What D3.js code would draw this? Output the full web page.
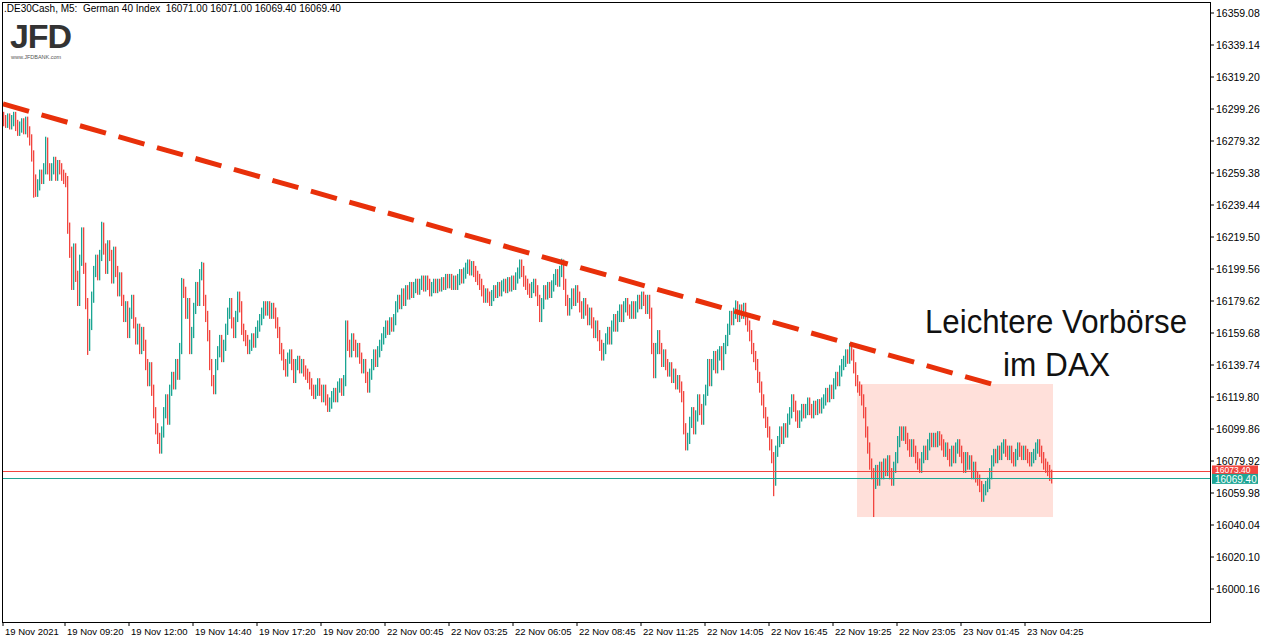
<!DOCTYPE html>
<html><head><meta charset="utf-8">
<script src="https://cdn.jsdelivr.net/npm/d3@7"></script>
<style>body{margin:0;background:#fff}svg{display:block;font-family:"Liberation Sans",Arial,sans-serif}</style>
</head><body><svg id="c" width="1268" height="642"></svg>
<script>
const closes = [
16292,16291,16293,16290,16292,16294,16289,16286,16288,16290,
16287,16291,16285,16280,16270,16255,16248,16252,16258,16256,
16262,16278,16262,16258,16262,16266,16258,16264,16262,16258,
16256,16254,16225,16210,16190,16212,16195,16180,16205,16222,
16200,16178,16152,16165,16182,16198,16205,16196,16208,16225,
16212,16200,16214,16208,16194,16210,16198,16186,16194,16180,
16170,16176,16160,16172,16180,16166,16156,16162,16150,16160,
16152,16140,16130,16138,16124,16110,16100,16094,16088,16098,
16110,16118,16106,16124,16132,16128,16140,16134,16150,16190,
16185,16172,16178,16150,16160,16175,16188,16180,16196,16200,
16180,16170,16158,16140,16130,16125,16140,16148,16155,16145,
16152,16162,16172,16178,16166,16160,16170,16182,16176,16162,
16158,16155,16150,16152,16156,16154,16160,16164,16168,16172,
16176,16174,16176,16172,16175,16172,16166,16160,16150,16146,
16140,16136,16144,16146,16140,16132,16140,16142,16138,16140,
16136,16134,16132,16128,16124,16122,16124,16128,16124,16120,
16124,16118,16114,16116,16120,16122,16120,16126,16128,16124,
16130,16164,16152,16148,16156,16152,16148,16150,16144,16138,
16140,16132,16126,16134,16140,16146,16142,16148,16152,16156,
16160,16164,16162,16166,16164,16168,16176,16180,16178,16184,
16180,16186,16184,16188,16185,16188,16190,16187,16190,16192,
16189,16192,16190,16186,16188,16190,16188,16190,16189,16191,
16190,16193,16191,16193,16190,16192,16190,16193,16196,16194,
16197,16200,16202,16199,16201,16198,16195,16193,16190,16186,
16182,16184,16182,16180,16183,16186,16185,16188,16186,16189,
16190,16188,16191,16189,16192,16190,16194,16197,16202,16198,
16192,16190,16187,16185,16188,16190,16186,16180,16170,16178,
16186,16184,16188,16185,16189,16193,16196,16192,16198,16202,
16190,16180,16174,16178,16184,16180,16186,16182,16176,16172,
16178,16174,16168,16172,16166,16160,16164,16158,16152,16146,
16150,16156,16160,16156,16164,16168,16164,16170,16174,16170,
16176,16178,16174,16172,16176,16172,16176,16180,16178,16182,
16180,16175,16180,16172,16150,16135,16150,16158,16150,16142,
16146,16140,16136,16138,16132,16134,16128,16130,16126,16120,
16100,16090,16094,16104,16110,16100,16108,16118,16112,16106,
16118,16124,16140,16130,16140,16145,16138,16146,16148,16140,
16150,16155,16162,16170,16168,16172,16176,16170,16174,16172,
16175,16168,16164,16158,16150,16145,16140,16132,16126,16118,
16110,16104,16098,16090,16082,16068,16086,16092,16098,16094,
16100,16098,16106,16110,16118,16114,16108,16104,16108,16112,
16110,16112,16116,16112,16110,16114,16112,16115,16113,16116,
16118,16122,16120,16124,16122,16128,16132,16130,16136,16140,
16142,16146,16144,16150,16146,16138,16130,16126,16124,16118,
16110,16098,16088,16078,16072,16066,16074,16068,16076,16072,
16078,16074,16080,16072,16068,16076,16082,16092,16098,16096,
16098,16094,16090,16086,16090,16086,16082,16078,16076,16082,
16086,16084,16090,16094,16092,16094,16092,16095,16093,16090,
16086,16088,16084,16080,16086,16082,16088,16090,16086,16082,
16076,16082,16078,16080,16072,16076,16070,16068,16064,16058,
16062,16064,16066,16072,16080,16084,16082,16086,16084,16088,
16090,16086,16084,16086,16082,16080,16084,16088,16086,16084,
16086,16084,16082,16080,16082,16084,16088,16090,16086,16082,
16078,16076,16074,16071,16069.4];
const firstOpen = 16294;
const lowSpikes = [[15,16244],[42,16146],[78,16085],[385,16058],[435,16045],[489,16055]];
const highSpikes = [[21,16282],[49,16229],[89,16194],[99,16204],[279,16206],[366,16180]];
const yTicks = ["16359.08","16339.14","16319.20","16299.26","16279.32","16259.38","16239.44","16219.50","16199.56","16179.62","16159.68","16139.74","16119.80","16099.86","16079.92","16059.98","16040.04","16020.10","16000.16"];
const xLabels = ["19 Nov 2021","19 Nov 09:20","19 Nov 12:00","19 Nov 14:40","19 Nov 17:20","19 Nov 20:00","22 Nov 00:45","22 Nov 03:25","22 Nov 06:05","22 Nov 08:45","22 Nov 11:25","22 Nov 14:05","22 Nov 16:45","22 Nov 19:25","22 Nov 23:05","23 Nov 01:45","23 Nov 04:25"];
const bidPrice = 16069.40, askPrice = 16073.40;
const trend = [[0,16302.4],[499.5,16126]];
const box = {i0:427,i1:525,p0:16127.9,p1:16045};

const svg = d3.select("#c");
const x = d3.scaleLinear().domain([0,1]).range([3,5]);
const y = d3.scaleLinear().domain([16000.16,16359.08]).range([589,13]);
const UP="#1aa592", DN="#f2453f";
const L=2, R=1210, T=2, B=622;

svg.append("rect").attr("x",x(box.i0)).attr("y",y(box.p0)).attr("width",x(box.i1)-x(box.i0)).attr("height",y(box.p1)-y(box.p0)).attr("fill","#ffe0da");

const lows=new Map(lowSpikes), highs=new Map(highSpikes);
const bars = closes.map((c,i)=>{const o=i?closes[i-1]:firstOpen;
  let hi=Math.max(o,c)+3.5, lo=Math.min(o,c)-3.5;
  if(highs.has(i)) hi=Math.max(hi,highs.get(i)); if(lows.has(i)) lo=Math.min(lo,lows.get(i));
  return {i,o,c,hi,lo};});
svg.append("g").selectAll("rect").data(bars).join("rect")
 .attr("x",d=>x(d.i)).attr("width",1.3).attr("y",d=>y(d.hi)).attr("height",d=>y(d.lo)-y(d.hi))
 .attr("fill",d=>d.c>=d.o?UP:DN);

svg.append("rect").attr("x",L).attr("width",R-L).attr("y",Math.round(y(askPrice))).attr("height",1).attr("fill",DN);
svg.append("rect").attr("x",L).attr("width",R-L).attr("y",Math.round(y(bidPrice))).attr("height",1).attr("fill","#1ea594");

svg.append("line").attr("x1",x(trend[0][0])).attr("y1",y(trend[0][1])).attr("x2",x(trend[1][0])).attr("y2",y(trend[1][1]))
 .attr("stroke","#e8300a").attr("stroke-width",5).attr("stroke-dasharray","27,13");

svg.append("rect").attr("x",L+0.5).attr("y",T+0.5).attr("width",R-L).attr("height",B-T).attr("fill","none").attr("stroke","#000").attr("stroke-width",1);

const ya=svg.append("g");
yTicks.forEach(t=>{const yy=y(+t);
 ya.append("line").attr("x1",R).attr("x2",R+4).attr("y1",yy).attr("y2",yy).attr("stroke","#000");
 ya.append("text").attr("x",R+6).attr("y",yy+4).attr("font-size",10.5).text(t);});
ya.append("rect").attr("x",R+2).attr("y",y(askPrice)-6).attr("width",46).attr("height",9).attr("fill",DN);
ya.append("text").attr("x",R+5).attr("y",y(askPrice)+1.5).attr("font-size",8.5).attr("fill","#fff").text(askPrice.toFixed(2));
ya.append("rect").attr("x",R+2).attr("y",y(bidPrice)-4).attr("width",46).attr("height",10).attr("fill","#1ea594");
ya.append("text").attr("x",R+5).attr("y",y(bidPrice)+5.5).attr("font-size",10).attr("fill","#fff").text(bidPrice.toFixed(2));

xLabels.forEach((t,k)=>{const xx=k?x(32*k-1):x(0);
 svg.append("line").attr("x1",xx).attr("x2",xx).attr("y1",B).attr("y2",B+4).attr("stroke","#000");
 svg.append("text").attr("x",xx+2).attr("y",B+13).attr("font-size",9.5).text(t);});

svg.append("text").attr("x",4).attr("y",12).attr("font-size",10).attr("xml:space","preserve").text(".DE30Cash, M5:  German 40 Index  16071.00 16071.00 16069.40 16069.40");
svg.append("text").attr("x",10).attr("y",48).attr("font-size",34).attr("font-weight","bold").attr("fill","#333").attr("textLength",62).text("JFD");
svg.append("text").attr("x",11).attr("y",59).attr("font-size",5.5).attr("fill","#555").text("www.JFDBANK.com");

svg.append("text").attr("x",925).attr("y",333).attr("font-size",34).attr("fill","#111").attr("textLength",262).attr("lengthAdjust","spacingAndGlyphs").text("Leichtere Vorbörse");
svg.append("text").attr("x",1003).attr("y",376).attr("font-size",34).attr("fill","#111").attr("textLength",107).attr("lengthAdjust","spacingAndGlyphs").text("im DAX");
</script></body></html>
